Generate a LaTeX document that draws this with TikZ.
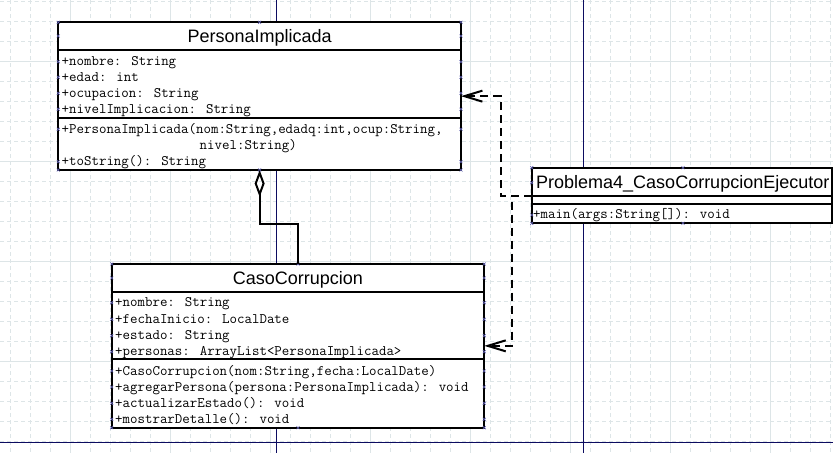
\documentclass[tikz,border=0pt]{standalone}
\usepackage{fontspec}
\newfontfamily\headfont{Liberation Sans}
\usetikzlibrary{arrows.meta}
\definecolor{gridline}{RGB}{221,229,231}
\definecolor{pageline}{RGB}{12,12,96}
\definecolor{handleblue}{RGB}{96,96,176}

\begin{document}
\begin{tikzpicture}[x=1pt, y=-1pt,
	classbox/.style={draw, line width=2pt, fill=white, rectangle, inner sep=0pt, outer sep=0pt, anchor=north west},
	title/.style={font=\headfont\fontsize{18}{18}\selectfont, inner sep=0pt, anchor=base},
	member/.style={font=\ttfamily\fontsize{14.5}{16}\selectfont, inner sep=0pt, anchor=base west},
	depend/.style={line width=2pt, dash pattern=on 8pt off 5pt, -{Straight Barb[length=18pt, width=11pt]}},
	aggreg/.style={line width=2pt, {Diamond[open, length=27pt, width=10pt]}-},
	selmark/.pic={\draw[handleblue, line width=0.6pt] (-1.5,-1.5) -- (1.5,1.5) (-1.5,1.5) -- (1.5,-1.5);}
]
	\useasboundingbox (0,0) rectangle (833,453);

	% background grid
	\foreach \x in {10,30,...,830} \draw[gridline, line width=0.7pt, dash pattern=on 4pt off 3pt] (\x,0) -- (\x,453);
	\foreach \y in {1.7,21.7,...,441.7} \draw[gridline, line width=0.7pt, dash pattern=on 4pt off 3pt] (0,\y) -- (833,\y);
	\foreach \x in {70,170,...,770} \draw[gridline, line width=0.8pt] (\x,0) -- (\x,453);
	\foreach \y in {61.7,161.7,261.7,361.7} \draw[gridline, line width=0.8pt] (0,\y) -- (833,\y);

	% page borders
	\draw[pageline, line width=1.3pt] (276.5,0) -- (276.5,453);
	\draw[pageline, line width=1.3pt] (583.3,0) -- (583.3,453);
	\draw[pageline, line width=1.3pt] (0,442.3) -- (833,442.3);

	% PersonaImplicada
	\node[classbox, minimum width=402.7pt, minimum height=147.7pt] (pi) at (58.3,22.3) {};
	\draw[line width=2pt] (pi.west |- 0,50) -- (pi.east |- 0,50);
	\draw[line width=2pt] (pi.west |- 0,117.7) -- (pi.east |- 0,117.7);
	\node[title] (pititle) at (259.6,42.3) {PersonaImplicada};
	\node[member] (pia1) at (61.5,65.7) {+nombre: String};
	\node[member] (pia2) at (61.5,81.3) {+edad: int};
	\node[member] (pia3) at (61.5,97.3) {+ocupacion: String};
	\node[member] (pia4) at (61.5,113.3) {+nivelImplicacion: String};
	\node[member] (pim1) at (61.5,133.3) {+PersonaImplicada(nom:String,edadq:int,ocup:String,};
	\node[member] (pim1b) at (199.5,149.7) {nivel:String)};
	\node[member] (pim2) at (61.5,165.7) {+toString(): String};

	% CasoCorrupcion
	\node[classbox, minimum width=372.6pt, minimum height=163.7pt] (cc) at (111.7,264) {};
	\draw[line width=2pt] (cc.west |- 0,292.3) -- (cc.east |- 0,292.3);
	\draw[line width=2pt] (cc.west |- 0,359.3) -- (cc.east |- 0,359.3);
	\node[title] (cctitle) at (298,284.3) {CasoCorrupcion};
	\node[member] (cca1) at (115,306.7) {+nombre: String};
	\node[member] (cca2) at (115,323.3) {+fechaInicio: LocalDate};
	\node[member] (cca3) at (115,339.7) {+estado: String};
	\node[member] (cca4) at (115,355.7) {+personas: ArrayList<PersonaImplicada>};
	\node[member] (ccm1) at (115,375) {+CasoCorrupcion(nom:String,fecha:LocalDate)};
	\node[member] (ccm2) at (115,391) {+agregarPersona(persona:PersonaImplicada): void};
	\node[member] (ccm3) at (115,407.3) {+actualizarEstado(): void};
	\node[member] (ccm4) at (115,423.3) {+mostrarDetalle(): void};

	% Problema4_CasoCorrupcionEjecutor
	\node[classbox, minimum width=300.3pt, minimum height=55.6pt] (pe) at (531.7,167.7) {};
	\draw[line width=2pt] (pe.west |- 0,196) -- (pe.east |- 0,196);
	\draw[line width=2pt] (pe.west |- 0,204) -- (pe.east |- 0,204);
	\node[title, anchor=base west] (petitle) at (536,188.3) {Problema4\_CasoCorrupcionEjecutor};
	\node[member] (pem1) at (533,218.3) {+main(args:String[]): void};

	% selection handles
	\foreach \y in {22.3,36,61.7,77.3,93.3,109.3,129.3,161.7,170} {
		\pic at (58.3,\y) {selmark};
		\pic at (461,\y) {selmark};
	}
	\foreach \y in {264,278,302.7,319.3,335.7,351.7,371,387,403.3,419.3,427.7} {
		\pic at (111.7,\y) {selmark};
		\pic at (484.3,\y) {selmark};
	}
	\foreach \y in {167.7,182.7,215,223.3} \pic at (531.7,\y) {selmark};
	\foreach \p in {(259.6,22.3),(259.6,170),(298,264),(298,427.7),(683,167.7),(683,223.3)} \pic at \p {selmark};

	% relations
	\draw[aggreg] (pi.south) -- ++(0,54) -| (cc.north);
	\draw[depend] (pe.west) -- ++(-31,0) |- (pi.east);
	\draw[depend] (pe.west) -- ++(-20,0) |- (cc.east);
\end{tikzpicture}
\end{document}
